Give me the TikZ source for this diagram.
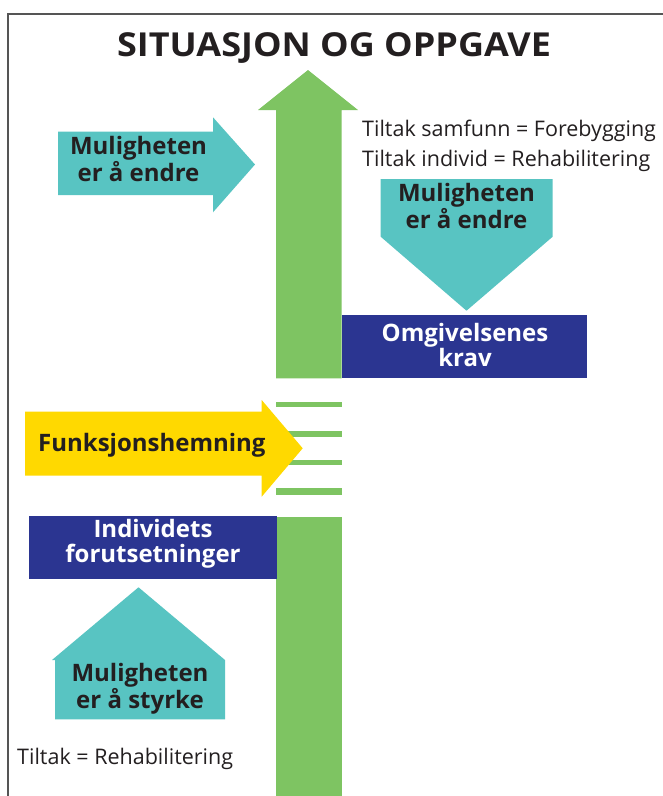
\documentclass[tikz,border=0pt]{standalone}
\usepackage{fontspec}
\setmainfont{Open Sans}
\definecolor{grn}{RGB}{126,196,98}
\definecolor{cyn}{RGB}{88,196,194}
\definecolor{ylw}{RGB}{255,217,0}
\definecolor{blu}{RGB}{43,53,145}
\definecolor{ink}{RGB}{35,31,32}
\definecolor{frame}{RGB}{85,85,85}
\tikzset{
  lbl/.style={inner sep=0pt, align=center, text=ink, font=\bfseries\fontsize{24}{25.5}\selectfont, anchor=base},
  wlbl/.style={lbl, text=white},
  note/.style={inner sep=0pt, align=left, text=ink, font=\fontsize{21.5}{30}\selectfont, anchor=base west},
}
\begin{document}
\begin{tikzpicture}[x=1pt,y=-1pt]
\useasboundingbox (0,0) rectangle (663,796);
\fill[white] (0,0) rectangle (663,796);
% frame
\draw[frame, line width=2.5pt] (8,796) -- (8,14) -- (663,14);
% title
\node[inner sep=0pt, anchor=base, text=ink, font=\bfseries\fontsize{33}{33}\selectfont] (title) at (334,56) {\scalebox{1.09}[1]{SITUASJON OG OPPGAVE}};
% green arrow
\fill[grn] (276,110) -- (258,110) -- (308,70) -- (358,110) -- (341.7,110) -- (341.7,378.3) -- (276,378.3) -- cycle;
\fill[grn] (276,401.7) rectangle (341.7,407.3);
\fill[grn] (276,430.7) rectangle (341.7,436.5);
\fill[grn] (276,459.7) rectangle (341.7,465.3);
\fill[grn] (276,488.3) rectangle (341.7,494.5);
\fill[grn] (276,517) rectangle (341.7,796);
% left cyan arrow
\fill[cyn] (58,131.7) -- (213,131.7) -- (213,117.3) -- (255,164.5) -- (213,212.3) -- (213,195) -- (58,195) -- cycle;
\node[lbl] (endreL) at (138.5,181.7) {Muligheten\\er å endre};
% notes right
\node[note] (notes) at (362,166.5) {Tiltak samfunn = Forebygging\\Tiltak individ = Rehabilitering};
% down cyan arrow
\fill[cyn] (380.7,179) -- (552.7,179) -- (552.7,236.7) -- (466.5,310.7) -- (380.7,236.7) -- cycle;
\node[lbl] (endreR) at (466.5,228) {Muligheten\\er å endre};
% Omgivelsenes krav
\fill[blu] (341.7,315) rectangle (587.3,378.3);
\node[wlbl] (krav) at (465,366.7) {Omgivelsenes\\krav};
% yellow arrow
\fill[ylw] (25,411.7) -- (261.7,411.7) -- (261.7,400) -- (302.7,448.3) -- (261.7,496.7) -- (261.7,475.7) -- (25,475.7) -- cycle;
\node[lbl, anchor=base west] (funk) at (38,451) {Funksjonshemning};
% Individets
\fill[blu] (29.3,515.7) rectangle (276.7,579.3);
\node[wlbl] (indiv) at (153,562.7) {Individets\\forutsetninger};
% house arrow
\fill[cyn] (55,719.3) -- (55,660) -- (52,660) -- (138.5,587.3) -- (225,660) -- (225,719.3) -- cycle;
\node[lbl] (styrke) at (140,708.3) {Muligheten\\er å styrke};
\node[note] (tiltak) at (17,764) {Tiltak = Rehabilitering};
\end{tikzpicture}
\end{document}
